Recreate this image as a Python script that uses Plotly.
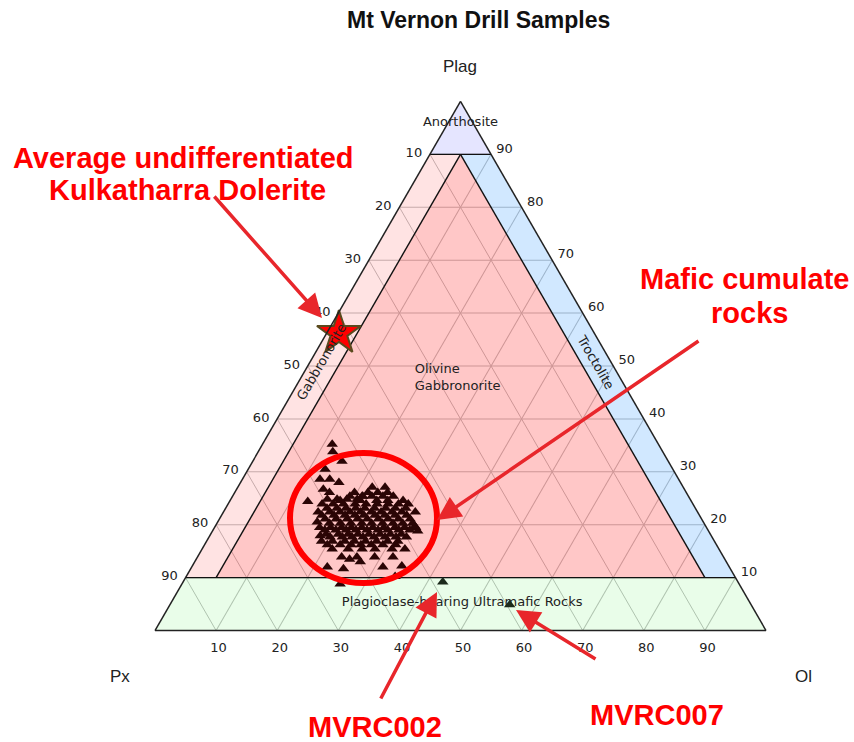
import plotly.graph_objects as go

# ---------------- data ----------------
title = "Mt Vernon Drill Samples"
tick_vals = [10, 20, 30, 40, 50, 60, 70, 80, 90]
tick_text = [str(100 - v) for v in tick_vals]

# cluster of drill samples (Plag %, Ol %), Px = remainder
plag = [35.2, 33.8, 32.0, 30.5, 28.6, 28.6, 28.0, 24.4, 26.7, 26.1, 24.8, 24.8, 24.8, 24.8, 25.4,
        25.4, 25.4, 25.4, 25.4, 25.4,
        23.9, 23.9, 23.9, 23.9, 23.9, 23.9, 23.9, 23.9, 23.9,
        22.4, 22.4, 22.4, 22.4, 22.4, 22.4, 22.4, 22.4, 22.4, 22.4,
        21.1, 21.1, 21.1, 21.1, 21.1, 21.1, 21.1, 21.1, 21.1,
        19.5, 19.5, 19.5, 19.5, 19.5, 19.5, 19.5, 19.5, 19.5, 19.5,
        18.2, 18.2, 18.2, 18.2, 18.2, 18.2, 18.2, 18.2,
        16.9, 16.9, 16.9, 16.9, 16.9, 16.9, 16.9, 16.9,
        15.4, 15.4, 15.4, 15.4, 15.4, 15.4,
        13.9, 13.9, 13.9, 13.9,
        12.0, 11.7, 13.0, 12.0, 12.2, 10.2, 8.8, 20.5, 17.9, 13.5, 19.7, 18.8,
        24.6, 24.6, 24.6, 24.6, 24.6,
        23.1, 23.1, 23.1, 23.1, 23.1, 23.1, 23.1, 23.1, 23.1,
        21.8, 21.8, 21.8, 21.8, 21.8, 21.8, 21.8, 21.8, 21.8,
        20.3, 20.3, 20.3, 20.3, 20.3, 20.3, 20.3, 20.3, 20.3,
        19.0, 19.0, 19.0, 19.0, 19.0, 19.0, 19.0, 19.0, 19.0,
        17.7, 17.7, 17.7, 17.7, 17.7, 17.7, 17.7, 17.7,
        16.2, 16.2, 16.2, 16.2, 16.2, 16.2, 16.2,
        26.1, 26.1, 26.1, 26.1,
        27.1, 27.1]
ol = [11.4, 12.2, 14.6, 12.6, 12.7, 14.3, 16.1, 12.8, 14.2, 15.5, 15.8, 17.4, 19.0, 20.7, 21.3,
      19.2, 21.2, 22.8, 24.6, 26.3,
      15.4, 17.2, 18.9, 20.8, 22.6, 24.4, 26.2, 27.9, 29.5,
      15.5, 17.4, 19.1, 20.7, 22.4, 24.2, 25.8, 27.6, 29.2, 31.4,
      17.3, 19.1, 20.9, 22.6, 24.2, 26.0, 27.6, 29.3, 31.2,
      17.2, 19.0, 20.8, 22.4, 24.1, 25.9, 27.7, 29.5, 31.1, 32.9,
      18.9, 20.9, 22.5, 24.1, 25.9, 27.7, 29.4, 31.2,
      18.8, 20.6, 22.6, 24.2, 26.0, 27.8, 29.6, 31.3,
      21.3, 23.9, 26.2, 28.3, 31.1, 33.2,
      23.6, 26.1, 29.0, 32.0,
      22.2, 25.0, 27.1, 31.3, 34.3, 34.2, 25.9, 16.3, 18.1, 25.1, 32.7, 33.6,
      18.0, 21.3, 24.0, 25.8, 28.3,
      16.6, 18.2, 19.7, 21.3, 22.8, 24.4, 26.2, 27.8, 29.5,
      16.4, 18.4, 20.2, 21.8, 23.3, 25.1, 26.7, 28.4, 30.3,
      18.4, 20.2, 21.9, 23.7, 25.3, 27.1, 28.8, 30.4, 32.0,
      18.3, 20.1, 21.8, 23.4, 25.2, 27.0, 28.6, 30.4, 32.2,
      19.8, 21.8, 23.4, 25.2, 27.0, 28.8, 30.6, 32.3,
      20.1, 22.2, 24.0, 25.6, 27.3, 29.2, 31.3,
      19.6, 21.8, 23.4, 25.0,
      22.0, 24.1]

# named samples
named_plag = [9.2, 4.9]
named_ol = [42.5, 55.6]
named_ids = ["MVRC002", "MVRC007"]

# average undifferentiated Kulkatharra Dolerite
dol_plag = [56.2]
dol_ol = [2.0]

# classification fields (Plag, Px, Ol) vertices
fields = {
    "Anorthosite": ([100, 90, 90, 100], [0, 10, 0, 0], [0, 0, 10, 0], "rgba(0,0,255,0.10)"),
    "Gabbronorite": ([90, 90, 10, 10, 90], [10, 5, 85, 90, 10], [0, 5, 5, 0, 0], "rgba(255,0,0,0.11)"),
    "Troctolite": ([90, 90, 10, 10, 90], [0, 5, 5, 0, 0], [10, 5, 85, 90, 10], "rgba(0,130,255,0.18)"),
    "Olivine Gabbronorite": ([90, 10, 10, 90], [5, 85, 5, 5], [5, 5, 85, 5], "rgba(255,0,0,0.22)"),
    "Ultramafic": ([10, 0, 0, 10, 10], [90, 100, 0, 0, 90], [0, 0, 100, 90, 0], "rgba(0,230,0,0.085)"),
}
boundaries = [
    ([10, 10], [90, 0], [0, 90]),
    ([90, 90], [10, 0], [0, 10]),
    ([90, 10], [5, 85], [5, 5]),
    ([90, 10], [5, 5], [5, 85]),
]

fig = go.Figure()
for name, (a, b, c, col) in fields.items():
    fig.add_trace(go.Scatterternary(a=a, b=b, c=c, mode="lines", fill="toself",
                                    fillcolor=col, line=dict(width=0, color=col),
                                    hoverinfo="skip", showlegend=False))
for a, b, c in boundaries:
    fig.add_trace(go.Scatterternary(a=a, b=b, c=c, mode="lines",
                                    line=dict(color="#111111", width=1.4),
                                    hoverinfo="skip", showlegend=False))

lab_font = dict(family="DejaVu Sans", size=13, color="#222222")
fig.add_trace(go.Scatterternary(a=[96.0], b=[2.0], c=[2.0], mode="text", text=["Anorthosite"],
                                textposition="middle center", textfont=lab_font,
                                showlegend=False, hoverinfo="skip", cliponaxis=False))
fig.add_trace(go.Scatterternary(a=[47.6], b=[33.7], c=[18.7], mode="text",
                                text=["Olivine<br>Gabbronorite"],
                                textposition="middle right", textfont=lab_font,
                                showlegend=False, hoverinfo="skip", cliponaxis=False))
fig.add_trace(go.Scatterternary(a=[5.26], b=[47.1], c=[47.64], mode="text",
                                text=["Plagioclase-bearing Ultramafic Rocks"],
                                textposition="middle center", textfont=lab_font,
                                showlegend=False, hoverinfo="skip", cliponaxis=False))

fig.add_trace(go.Scatterternary(a=plag, c=ol, mode="markers",
                                marker=dict(symbol="triangle-up", size=10, color="#2a0505"),
                                showlegend=False))
fig.add_trace(go.Scatterternary(a=named_plag, c=named_ol, mode="markers", text=named_ids,
                                marker=dict(symbol="triangle-up", size=10, color="#1c2a1c"),
                                showlegend=False))
fig.add_trace(go.Scatterternary(a=dol_plag, c=dol_ol, mode="markers",
                                marker=dict(symbol="star", size=33, color="#ff0000",
                                            line=dict(color="#5a4a1e", width=2)),
                                showlegend=False, cliponaxis=False))

axis_common = dict(tickvals=tick_vals, ticktext=tick_text, ticks="outside", ticklen=5,
                   tickcolor="rgba(0,0,0,0)", showgrid=True,
                   gridcolor="#c0c0c0", gridwidth=1, showline=True, linecolor="#222222",
                   linewidth=1.5, tickfont=dict(family="DejaVu Sans", size=13, color="#222222"),
                   title=dict(text=""))

fig.update_layout(
    width=854, height=742,
    margin=dict(l=0, r=0, t=0, b=0),
    paper_bgcolor="white",
    ternary=dict(sum=100, bgcolor="white",
                 domain=dict(x=[155 / 854, 766 / 854], y=[110 / 742, 642 / 742]),
                 aaxis=axis_common, baxis=axis_common, caxis=axis_common),
    showlegend=False,
)

RED = "#ff0000"
ARROW = "#e8262b"
big = dict(family="Liberation Sans, Arial", size=29, color=RED)
vert = dict(family="Liberation Sans, Arial", size=17, color="#222222")


def P(x, y):
    return x / 854, 1 - y / 742


annots = []
def text_ann(txt, x, y, font, angle=0):
    px_, py_ = P(x, y)
    annots.append(dict(text=txt, x=px_, y=py_, xref="paper", yref="paper", showarrow=False,
                       font=font, xanchor="center", yanchor="middle", textangle=angle))

def arrow_ann(x0, y0, x1, y1):
    px_, py_ = P(x1, y1)
    annots.append(dict(text="", x=px_, y=py_, xref="paper", yref="paper", showarrow=True,
                       ax=x0 - x1, ay=y0 - y1, arrowhead=2, arrowsize=1.35, arrowwidth=3.5,
                       arrowcolor=ARROW, standoff=0))

text_ann("<b>" + title + "</b>", 479, 20, dict(family="Liberation Sans, Arial", size=23, color="#111111"))
text_ann("Plag", 460, 67, vert)
text_ann("Px", 120, 676, vert)
text_ann("Ol", 803, 676, vert)
text_ann("Gabbronorite", 322, 362, lab_font, -60)
text_ann("Troctolite", 595, 362, lab_font, 60)
text_ann("<b>Average undifferentiated</b>", 183, 158, big)
text_ann("<b>Kulkatharra Dolerite</b>", 187, 190, big)
text_ann("<b>Mafic cumulate</b>", 745, 279, big)
text_ann("<b>rocks</b>", 749, 313, big)
text_ann("<b>MVRC002</b>", 375, 727, big)
text_ann("<b>MVRC007</b>", 657, 715, big)
arrow_ann(213, 195, 322, 318)
arrow_ann(700, 340, 437, 520)
arrow_ann(380, 700, 437, 592)
arrow_ann(597, 660, 516, 610)

fig.update_layout(annotations=annots)
cx0, cy0 = P(290, 583)
cx1, cy1 = P(437, 453)
fig.add_shape(type="circle", xref="paper", yref="paper", x0=cx0, y0=cy0, x1=cx1, y1=cy1,
              line=dict(color=RED, width=6))

fig.write_html("out.html", config={"displayModeBar": False},
               post_script="document.body.style.margin='0';document.body.style.padding='0';"
                           "document.documentElement.style.overflow='hidden';")
